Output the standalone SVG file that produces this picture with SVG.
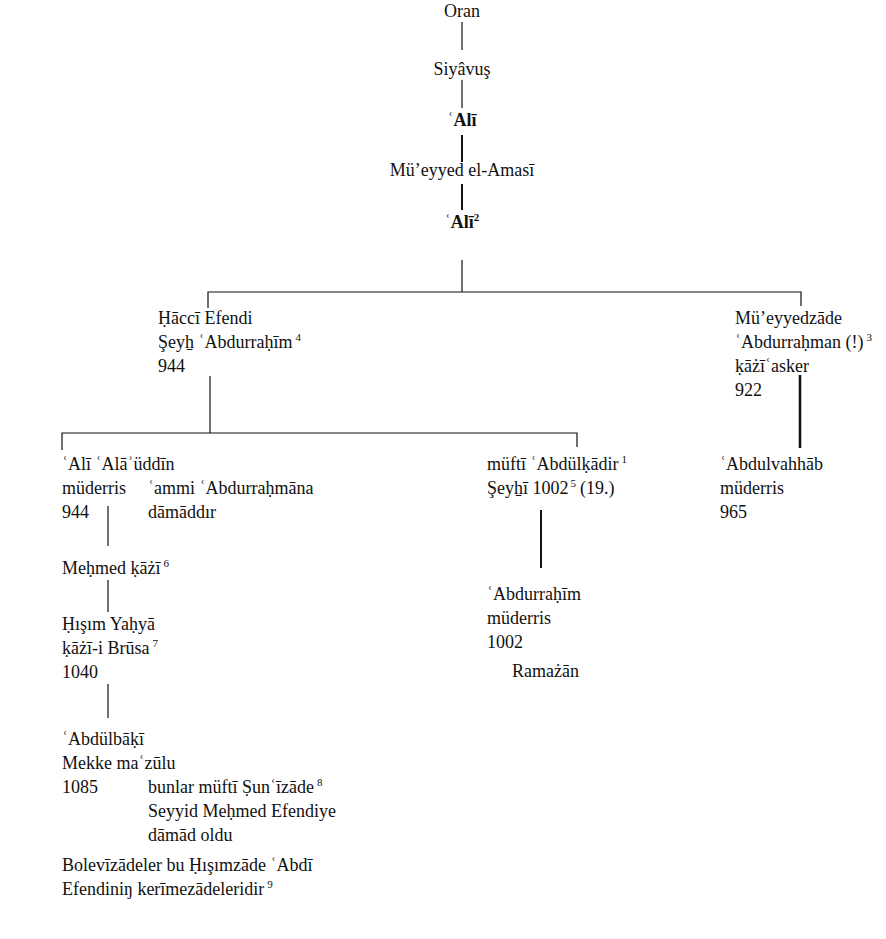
<svg xmlns="http://www.w3.org/2000/svg" width="886" height="939" viewBox="0 0 886 939">
<style>
  text { font-family: "Liberation Serif", "Times New Roman", "DejaVu Serif", serif; font-size: 18px; fill: #111; }
  .b { font-weight: bold; }
  .c { text-anchor: middle; }
  .sup { font-size: 11px; }
  .ln { stroke: #111; stroke-width: 1.2; fill: none; }
  .th { stroke-width: 2; }
  .tk { stroke-width: 2.6; }
</style>
<rect width="886" height="939" fill="#fff"/>

<!-- connectors -->
<g id="connectors">
  <path class="ln" d="M462 22V50"/>
  <path class="ln" d="M462 80V108"/>
  <path class="ln th" d="M462 135V162"/>
  <path class="ln th" d="M462 184V210"/>
  <path class="ln" d="M462 260V292"/>
  <path class="ln" d="M208 308V292H801V306"/>
  <path class="ln" d="M210 376V433"/>
  <path class="ln" d="M62 450V433H577V447"/>
  <path class="ln tk" d="M800 375V448"/>
  <path class="ln th" d="M541 510V568"/>
  <path class="ln" d="M108 506V546"/>
  <path class="ln" d="M108 580V612"/>
  <path class="ln" d="M108 684V718"/>
</g>

<!-- main line -->
<g id="oran"><text class="c" x="462" y="17">Oran</text></g>
<g id="siyavus"><text class="c" x="462" y="75">Siyâvuş</text></g>
<g id="ali1"><text class="c b" x="462" y="126">ʿAlī</text></g>
<g id="mueyyed"><text class="c" x="462" y="176">Mü’eyyed el-Amasī</text></g>
<g id="ali2"><text class="c b" x="462" y="228">ʿAlī<tspan class="sup" dy="-7">2</tspan></text></g>

<!-- second generation -->
<g id="hacci">
  <text x="158" y="324">Ḥāccī Efendi</text>
  <text x="158" y="348">Şeyẖ ʿAbdurraḥīm<tspan class="sup" dx="3" dy="-7">4</tspan></text>
  <text x="158" y="372">944</text>
</g>
<g id="mueyyedzade">
  <text x="735" y="324">Mü’eyyedzāde</text>
  <text x="735" y="348">ʿAbdurraḥman (!)<tspan class="sup" dx="3" dy="-7">3</tspan></text>
  <text x="735" y="372">ḳāżīʿasker</text>
  <text x="735" y="396">922</text>
</g>

<!-- third generation -->
<g id="alaeddin">
  <text x="62" y="470">ʿAlī ʿAlāʾüddīn</text>
  <text x="62" y="494">müderris</text>
  <text x="62" y="518">944</text>
  <text x="148" y="494">ʿammi ʿAbdurraḥmāna</text>
  <text x="148" y="518">dāmāddır</text>
</g>
<g id="abdulkadir">
  <text x="487" y="470">müftī ʿAbdülḳādir<tspan class="sup" dx="3" dy="-7">1</tspan></text>
  <text x="487" y="494">Şeyẖī 1002<tspan class="sup" dx="2" dy="-7">5</tspan><tspan dx="4" dy="7">(19.)</tspan></text>
</g>
<g id="abdulvahhab">
  <text x="720" y="470">ʿAbdulvahhāb</text>
  <text x="720" y="494">müderris</text>
  <text x="720" y="518">965</text>
</g>

<!-- later generations -->
<g id="mehmed">
  <text x="62" y="574">Meḥmed ḳāżī<tspan class="sup" dx="3" dy="-7">6</tspan></text>
</g>
<g id="abdurrahim">
  <text x="487" y="600">ʿAbdurraḥīm</text>
  <text x="487" y="624">müderris</text>
  <text x="487" y="648">1002</text>
  <text x="512" y="677">Ramażān</text>
</g>
<g id="hisim">
  <text x="62" y="630">Ḥışım Yaḥyā</text>
  <text x="62" y="654">ḳāżī-i Brūsa<tspan class="sup" dx="3" dy="-7">7</tspan></text>
  <text x="62" y="678">1040</text>
</g>
<g id="abdulbaki">
  <text x="62" y="745">ʿAbdülbāḳī</text>
  <text x="62" y="769">Mekke maʿzūlu</text>
  <text x="62" y="793">1085</text>
  <text x="148" y="793">bunlar müftī Ṣunʿīzāde<tspan class="sup" dx="3" dy="-7">8</tspan></text>
  <text x="148" y="817">Seyyid Meḥmed Efendiye</text>
  <text x="148" y="841">dāmād oldu</text>
  <text x="62" y="871">Bolevīzādeler bu Ḥışımzāde ʿAbdī</text>
  <text x="62" y="895">Efendiniŋ kerīmezādeleridir<tspan class="sup" dx="3" dy="-7">9</tspan></text>
</g>
</svg>
